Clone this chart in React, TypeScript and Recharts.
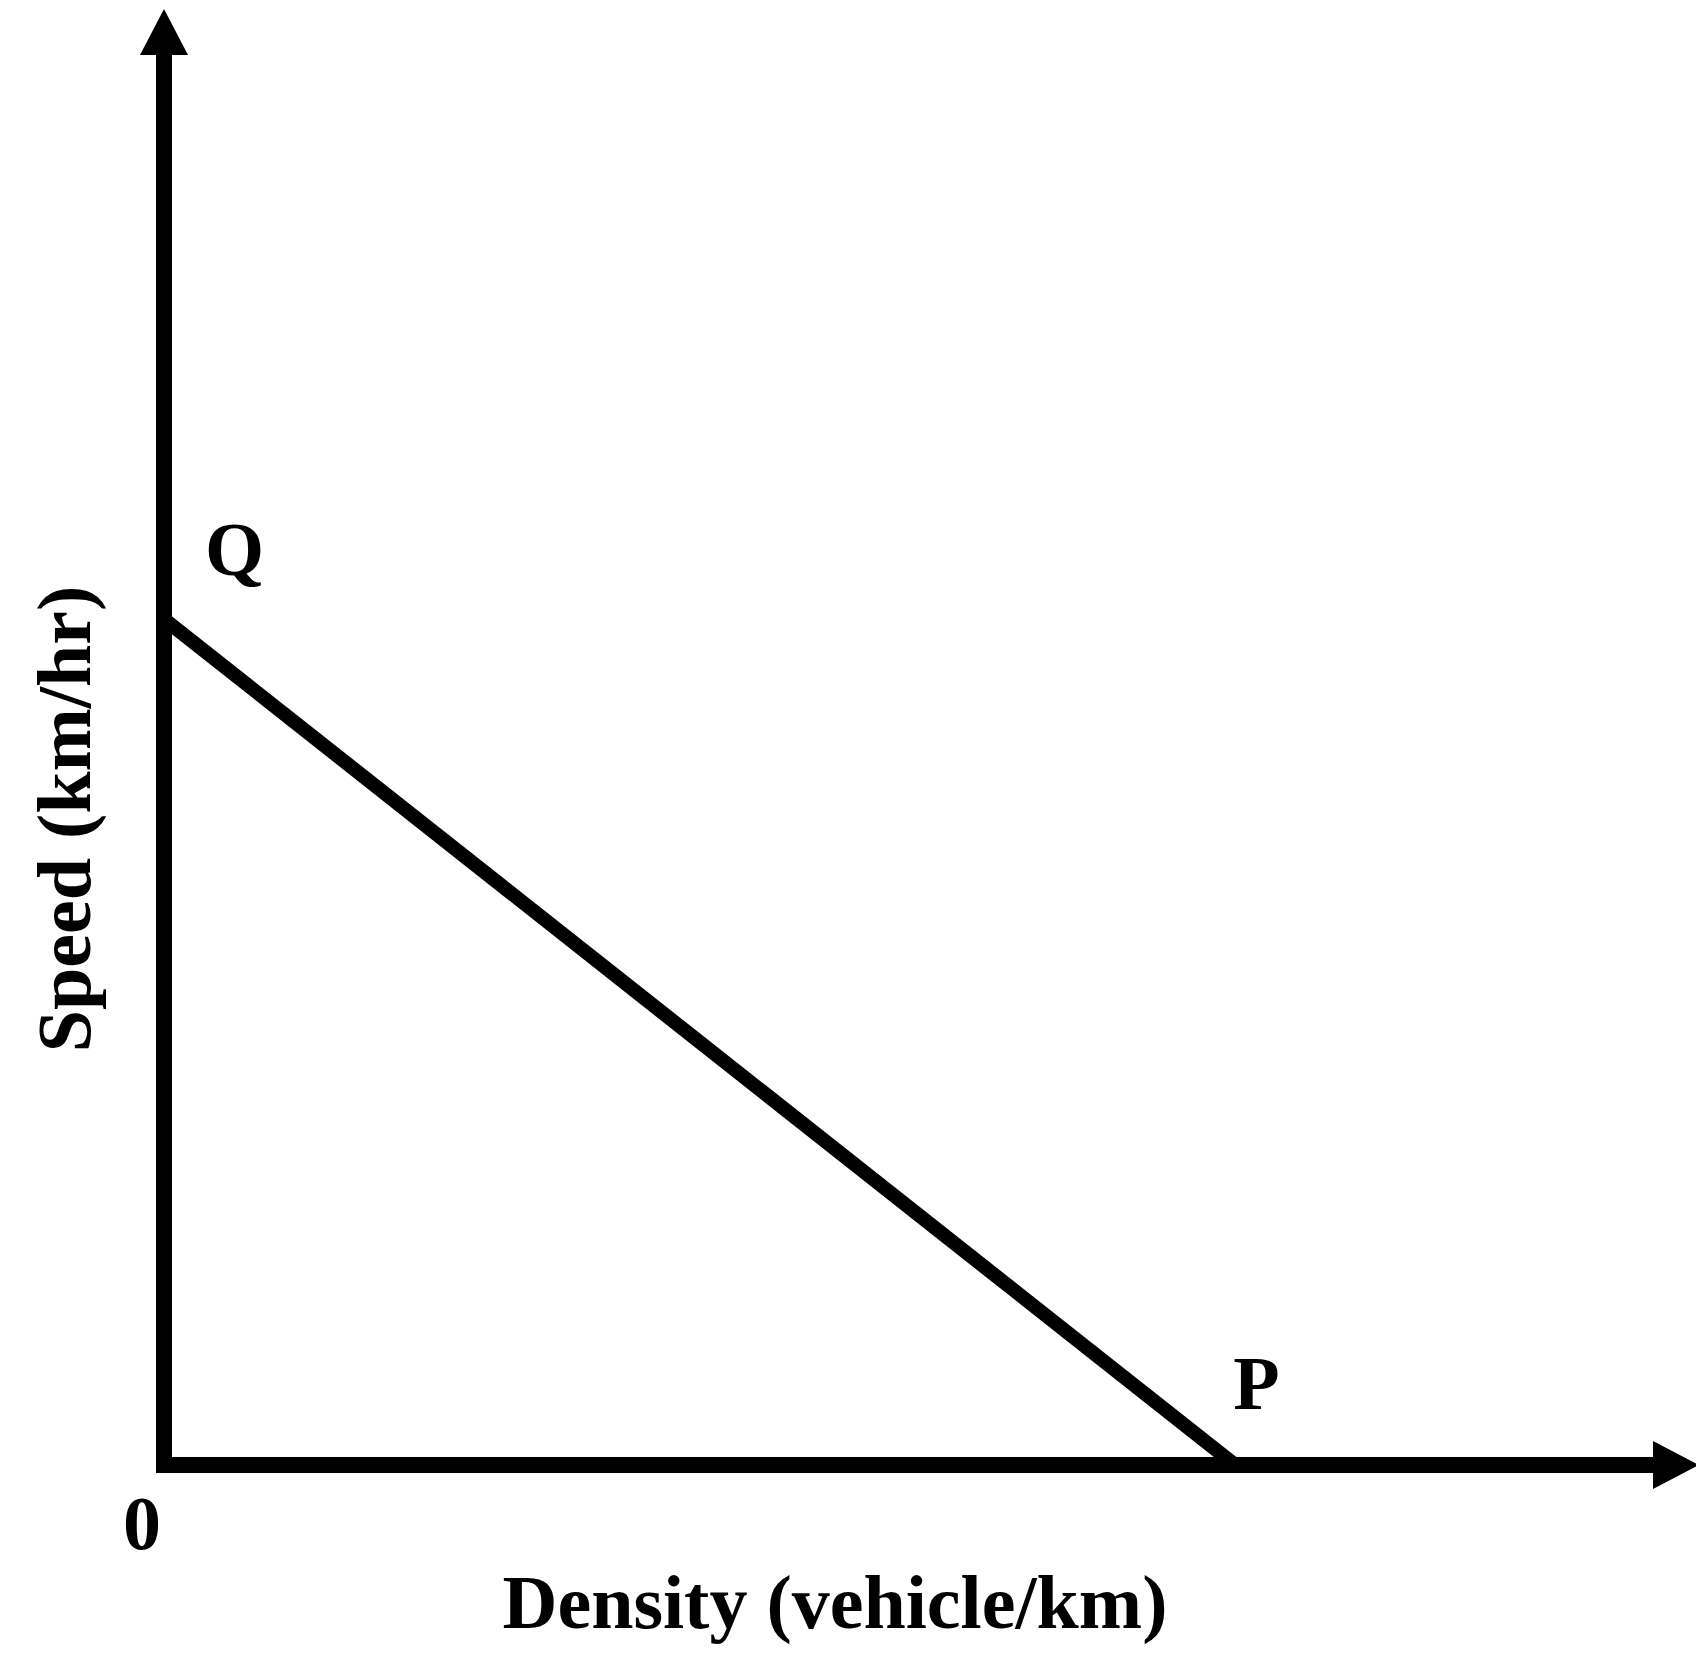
import React from "react";
import { LineChart, Line, XAxis, YAxis, Label, LabelList } from "recharts";

// speed-density line: free speed Q on the speed axis, jam density P on the density axis
const pointNames = ["Q", "P"];
const density = [0, 100];
const speed = [60, 0];

const densityDomain = [0, 139];
const speedDomain = [0, 100];
const originTicks = [0];

const xTitle = "Density (vehicle/km)";
const yTitle = "Speed (km/hr)";

const data = pointNames.map((name, i) => ({ name, density: density[i], speed: speed[i] }));

const FONT = '"Liberation Serif", "Times New Roman", serif';
const FS = 76;

// where each point letter sits relative to its point
const nameOffset: Record<string, { dx: number; dy: number }> = {
  Q: { dx: 41, dy: -44 },
  P: { dx: -2, dy: -56 },
};

const axisLine = (marker: "start" | "end") => ({
  stroke: "#000",
  strokeWidth: 16,
  strokeLinecap: "square" as const,
  ...(marker === "start" ? { markerStart: "url(#axisArrow)" } : { markerEnd: "url(#axisArrow)" }),
});

function PointName(props: any) {
  const { x, y, value } = props;
  const o = nameOffset[value] || { dx: 0, dy: 0 };
  return (
    <text x={x + o.dx} y={y + o.dy} fontFamily={FONT} fontWeight="bold" fontSize={FS} fill="#000">
      {value}
    </text>
  );
}

function OriginTick(props: any) {
  const { x, y, payload } = props;
  return (
    <text x={x - 22} y={y + 76} textAnchor="middle" fontFamily={FONT} fontWeight="bold" fontSize={FS} fill="#000">
      {payload.value}
    </text>
  );
}

export default function App() {
  return (
    <div style={{ width: 1696, height: 1655, background: "#fff", position: "relative", overflow: "hidden" }}>
      <style>{`body{margin:0}`}</style>
      <svg width={0} height={0} style={{ position: "absolute" }}>
        <defs>
          <marker
            id="axisArrow"
            markerUnits="userSpaceOnUse"
            markerWidth={46}
            markerHeight={48}
            refX={0}
            refY={24}
            orient="auto-start-reverse"
            viewBox="0 0 46 48"
          >
            <path d="M0,0 L46,24 L0,48 Z" fill="#000" />
          </marker>
        </defs>
      </svg>
      <LineChart width={1696} height={1655} data={data} margin={{ top: 55, right: 43, bottom: 90, left: 64 }}>
        <XAxis
          dataKey="density"
          type="number"
          domain={densityDomain}
          ticks={originTicks}
          tick={<OriginTick />}
          tickLine={false}
          height={100}
          axisLine={axisLine("end")}
          allowDataOverflow
        >
          <Label
            content={() => (
              <text x={835} y={1628} textAnchor="middle" fontFamily={FONT} fontWeight="bold" fontSize={FS} fill="#000">
                {xTitle}
              </text>
            )}
          />
        </XAxis>
        <YAxis
          dataKey="speed"
          type="number"
          domain={speedDomain}
          tick={false}
          tickLine={false}
          width={100}
          axisLine={axisLine("start")}
          allowDataOverflow
        >
          <Label
            content={() => (
              <text
                x={90}
                y={819}
                transform="rotate(-90, 90, 819)"
                textAnchor="middle"
                fontFamily={FONT}
                fontWeight="bold"
                fontSize={FS}
                fill="#000"
              >
                {yTitle}
              </text>
            )}
          />
        </YAxis>
        <Line
          type="linear"
          dataKey="speed"
          stroke="#000"
          strokeWidth={14}
          dot={false}
          activeDot={false}
          isAnimationActive={false}
        >
          <LabelList dataKey="name" content={<PointName />} />
        </Line>
      </LineChart>
    </div>
  );
}
